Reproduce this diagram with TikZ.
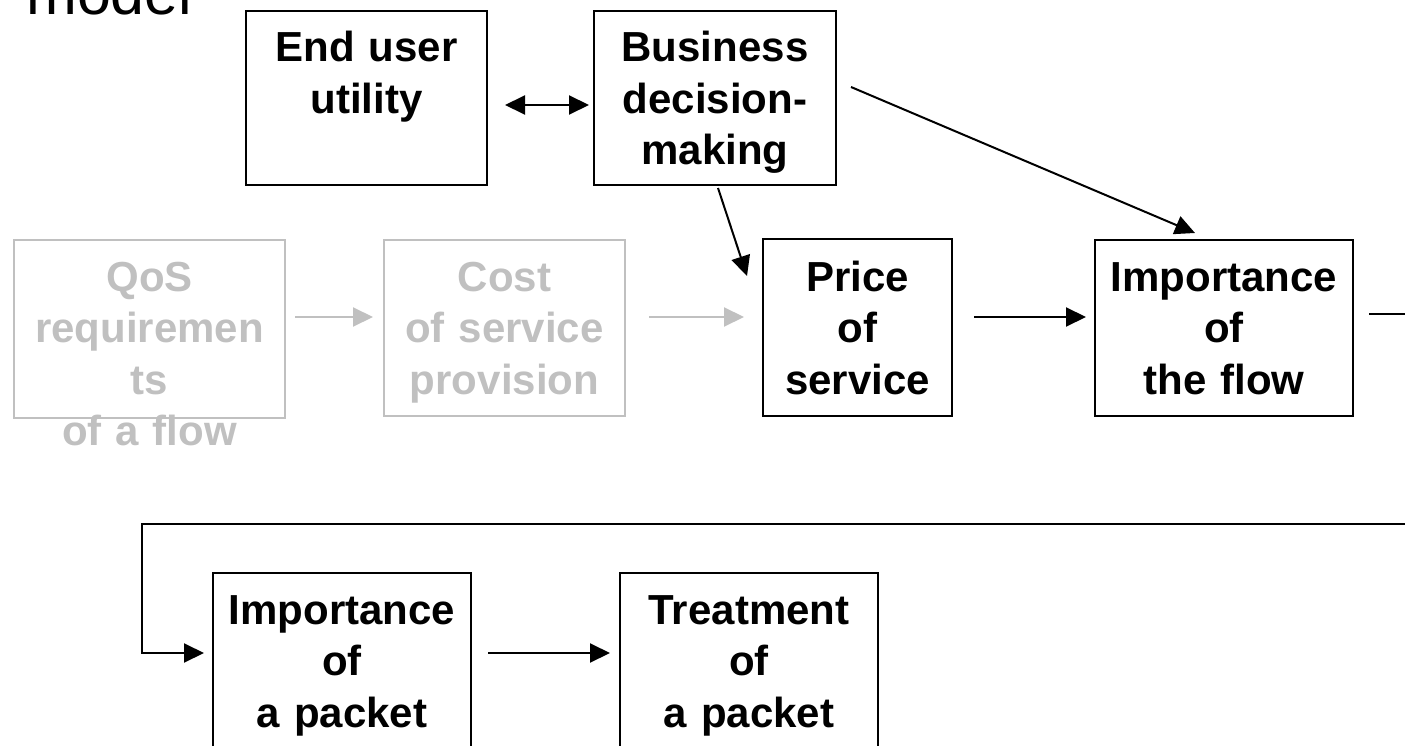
\documentclass[tikz,border=0pt]{standalone}
\usepackage{fontspec}
\setmainfont{Liberation Sans}
\usetikzlibrary{arrows.meta,calc}
\definecolor{greyc}{RGB}{192,192,192}
\tikzset{
  box/.style={draw, line width=2pt, inner sep=0pt, minimum width=#1},
  lbl/.style={text width=#1, align=center, inner sep=0pt, anchor=base,
    font=\bfseries\fontsize{42}{51.5}\selectfont},
  arr/.style={line width=2pt, -{Triangle[length=20pt,width=19pt]}},
  darr/.style={line width=2pt, {Triangle[length=20pt,width=19pt]}-{Triangle[length=20pt,width=19pt]}},
  plain/.style={line width=2pt},
}
\begin{document}
\begin{tikzpicture}[x=1pt,y=-1pt]
\useasboundingbox (0,0) rectangle (1405,746);
\clip (0,0) rectangle (1405,746);
\node[anchor=base west, inner sep=0pt, font=\fontsize{61}{70}\selectfont] (title) at (26,15) {model};
% boxes
\node[box=241pt, minimum height=174pt] (eu) at (366.5,98) {};
\node[box=242pt, minimum height=174pt] (bd) at (715,98) {};
\node[box=271pt, minimum height=178pt, draw=greyc] (qos) at (149.5,329) {};
\node[box=241pt, minimum height=176pt, draw=greyc] (cost) at (504.5,328) {};
\node[box=189pt, minimum height=177pt] (price) at (857.5,327.5) {};
\node[box=258pt, minimum height=176pt] (impf) at (1224,328) {};
\node[box=258pt, minimum height=227pt] (impp) at (342,686.5) {};
\node[box=258pt, minimum height=227pt] (treat) at (749,686.5) {};
% labels
\node[lbl=241pt] (eut) at ([yshift=-52pt]eu.north) {End user\\utility};
\node[lbl=242pt] (bdt) at ([yshift=-52pt]bd.north) {Business\\decision-\\making};
\node[lbl=271pt, text=greyc] (qost) at ([yshift=-52pt]qos.north) {QoS\\requiremen\\ts\\of a flow};
\node[lbl=241pt, text=greyc] (costt) at ([yshift=-52pt]cost.north) {Cost\\of service\\provision};
\node[lbl=189pt] (pricet) at ([yshift=-53pt]price.north) {Price\\of\\service};
\node[lbl=258pt] (impft) at ([yshift=-52pt]impf.north) {Importance\\of\\the flow};
\node[lbl=258pt] (imppt) at ([yshift=-52pt]impp.north) {Importance\\of\\a packet};
\node[lbl=258pt] (treatt) at ([yshift=-52pt]treat.north) {Treatment\\of\\a packet};
% free-end coordinates
\coordinate (rt1) at (1410,314);
\coordinate (rt2) at (1410,524);
\coordinate (c1) at (142,524);
\coordinate (c2) at (142,653);
% connectors
\draw[darr] ($(eu.east)+(17,7)$) -- ($(bd.west)+(-4,7)$);
\draw[arr] ($(bd.south)+(3,2)$) -- ($(price.north west)+(-15,38)$);
\draw[arr] ($(bd.east)+(14,-11)$) -- ($(impf.north)+(-29,-6)$);
\draw[arr, draw=greyc, color=greyc] ($(qos.east)+(9,-12)$) -- ($(cost.west)+(-10,-11)$);
\draw[arr, draw=greyc, color=greyc] ($(cost.east)+(23,-11)$) -- ($(price.west)+(-18,-10.5)$);
\draw[arr] ($(price.east)+(21,-10.5)$) -- ($(impf.west)+(-8,-11)$);
\draw[plain] ($(impf.east)+(15,-14)$) -- (rt1);
\draw[arr] (rt2) -- (c1) -- (c2) -- ($(impp.west)+(-8,-33.5)$);
\draw[arr] ($(impp.east)+(16,-33.5)$) -- ($(treat.west)+(-9,-33.5)$);
\end{tikzpicture}
\end{document}
